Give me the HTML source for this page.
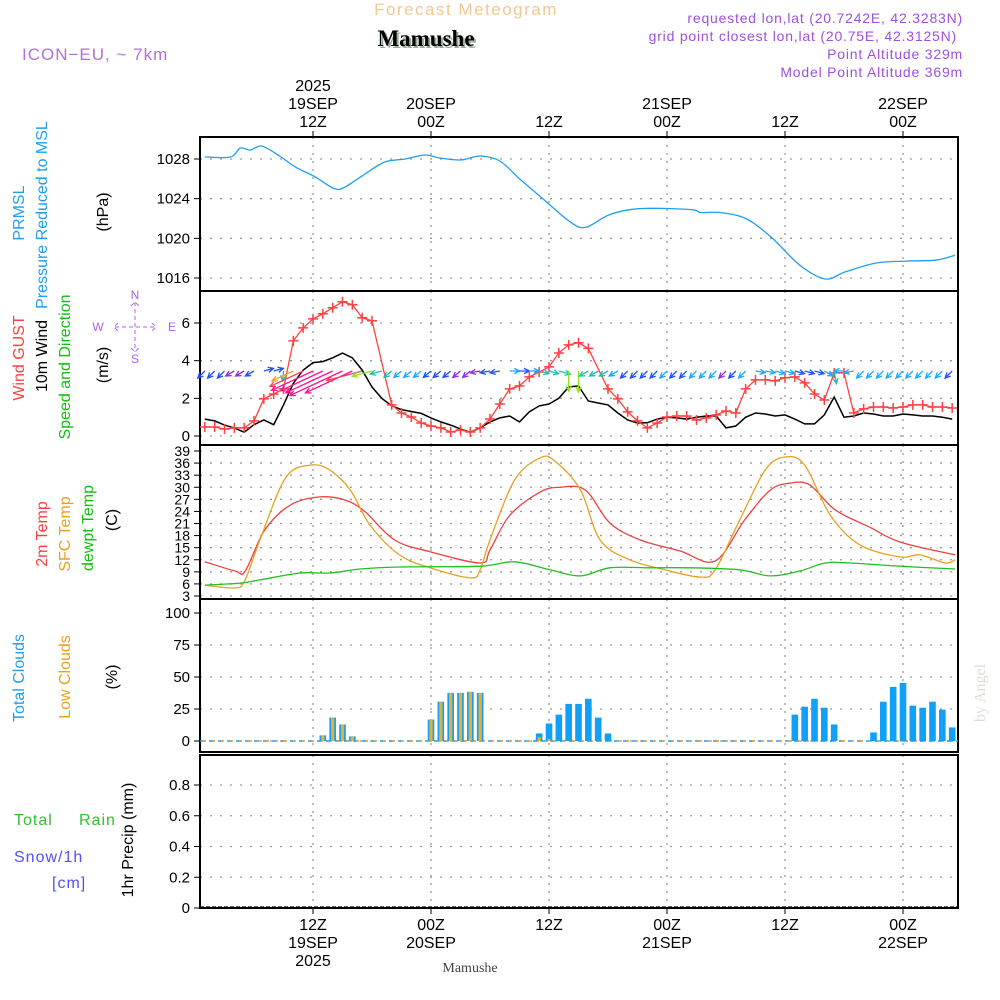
<!DOCTYPE html>
<html><head><meta charset="utf-8"><style>
body{margin:0;background:#fff}
svg{display:block;font-family:"Liberation Sans",sans-serif}
</style></head><body>
<svg id="c" width="1000" height="1000" viewBox="0 0 1000 1000">
<text x="466" y="15" font-size="17" fill="#f0c890" text-anchor="middle" letter-spacing="1.5">Forecast Meteogram</text>
<text x="428" y="48" font-size="23" font-weight="bold" font-family="Liberation Serif,serif" fill="#9a9" text-anchor="middle">Mamushe</text>
<text x="426" y="46" font-size="23" font-weight="bold" font-family="Liberation Serif,serif" fill="#000" text-anchor="middle">Mamushe</text>
<text x="22" y="60" font-size="17" fill="#b070e0" letter-spacing="1">ICON−EU, ~ 7km</text>
<g font-size="14" fill="#a050e0" text-anchor="end" letter-spacing="0.8">
<text x="963" y="23">requested lon,lat (20.7242E, 42.3283N)</text>
<text x="957" y="41">grid point closest lon,lat (20.75E, 42.3125N)</text>
<text x="963" y="59">Point Altitude 329m</text>
<text x="963" y="77">Model Point Altitude 369m</text>
</g>
<g id="g"></g>
<text transform="translate(985,693) rotate(-90)" font-size="16" font-family="Liberation Serif,serif" fill="#d8e0d8" text-anchor="middle">by Angel</text>
</svg>
<script>
const presHours=[1,3.6,4.6,5.6,6.8,8.6,10.2,12.2,14.2,15.3,17.3,19.3,21.4,23.4,24.9,27,29,31,33,35.6,38.1,39.7,42.2,45.3,50.4,51.4,53.4,56,58.5,61.5,64.1,66.1,69.2,72.2,75.3,77.3];
const presVals=[1028.2,1028.2,1029.1,1028.9,1029.3,1028.3,1027.2,1026.2,1025.0,1025.2,1026.5,1027.7,1028.0,1028.4,1028.1,1027.9,1028.3,1027.8,1026.0,1023.8,1021.7,1021.1,1022.4,1023.0,1022.9,1022.6,1022.6,1022.0,1020.2,1017.3,1015.9,1016.6,1017.5,1017.7,1017.8,1018.3];
const windVals=[0.9,0.8,0.58,0.43,0.2,0.6,0.85,0.6,1.65,2.8,3.5,3.9,3.95,4.15,4.4,4.15,3.5,2.6,2.0,1.6,1.4,1.3,1.2,0.96,0.75,0.58,0.37,0.2,0.43,0.75,0.96,1.06,0.75,1.28,1.6,1.7,2.0,2.6,2.66,1.86,1.75,1.65,1.22,0.85,0.69,0.7,0.9,1.0,0.96,0.9,1.0,1.06,1.06,0.43,0.53,1.0,1.22,1.17,1.06,1.12,0.9,0.64,0.64,1.12,2.07,1.0,1.06,1.22,1.17,1.06,1.06,1.17,1.12,1.06,1.06,1.0,0.9];
const windDirs=[135,135,135,150,150,150,-15,-15,95,155,155,155,155,155,155,155,165,165,165,140,140,140,140,140,140,140,140,140,170,170,170,0,0,0,15,15,15,90,90,150,150,150,150,135,135,135,135,135,135,135,135,135,135,135,135,135,10,10,15,15,15,15,15,30,80,180,170,135,135,135,135,135,135,135,135,135,135];
const gustHours=[1,2,3,4,5,6,7,8,9,10,11,12,13,14,15,16,17,18,20,21,22,23,24,25,26,27,28,29,30,31,32,33,34,35,36,37,38,39,40,42,43,44,45,46,47,48,49,50,51,52,53,54,55,56,57,58,59,60,61,62,63,64,65,66,67,68,69,70,71,72,73,74,75,76,77];
const gustVals=[0.48,0.48,0.37,0.43,0.43,0.8,1.97,2.23,2.5,5.05,5.74,6.22,6.49,6.81,7.13,6.97,6.28,6.12,1.65,1.22,1.01,0.69,0.53,0.43,0.21,0.32,0.21,0.43,0.9,1.7,2.5,2.66,3.14,3.4,3.67,4.41,4.84,4.95,4.65,2.5,1.97,1.28,0.8,0.43,0.69,1.01,1.06,1.06,0.85,0.96,1.12,1.33,1.22,2.5,2.98,2.98,2.93,3.09,3.14,2.82,2.23,1.91,3.35,3.35,1.22,1.44,1.54,1.54,1.49,1.54,1.65,1.65,1.54,1.54,1.49];
const t2Hours=[1,4.1,5.1,7.1,9.7,12.7,15.3,17.3,20.3,23.9,29,30,32,35.1,37.1,39.7,42.2,45.3,49.3,52.9,55.9,58.5,60.5,62.5,65.1,68.6,71.7,77.3];
const t2Vals=[11.5,9.2,9.2,19.4,25.6,27.6,26.8,23.9,16.9,14,11.2,14.4,23,28.8,30,29.3,21.1,16.9,14.2,11.7,21.9,29.3,31,30.6,24.4,20.1,16.4,13.2];
const sfcHours=[1,4.1,5.1,6.6,9.2,11.7,13.7,15.8,17.8,20.8,23.9,28,29,30,32.5,35.1,36.6,39.2,41.2,44.2,47.8,51.4,52.9,55.4,58,60,62,64.6,67.6,71.7,73.7,76.3,77.3];
const sfcVals=[5.7,5,7,16.9,32.3,35.5,34.3,29.3,20.6,13.2,10,7.5,9.5,16.9,31.8,37.3,36.5,29.3,16.9,12,9.5,7.7,9.5,21.9,34.3,37.5,35.5,23.1,15.7,12.7,13.2,11.2,12];
const dewHours=[1,4.6,6.6,10.7,13.7,16.8,20.8,29,32.5,36.1,39.2,42.2,46.3,50.4,55.4,58.5,61.5,64.1,66.6,71.7,77.3];
const dewVals=[5.7,6.2,7,8.7,8.7,9.7,10.2,10.4,11.5,9.5,8,10,10,10,9.5,8,9.2,11.2,11.2,10.4,9.7];
const cloudHours=[13,14,15,16,24,25,26,27,28,29,35,36,37,38,39,40,41,42,61,62,63,64,65,69,70,71,72,73,74,75,76,77];
const totalCloud=[4.4,18.3,12.9,3.6,16.8,30.7,37.6,37.6,38.4,37.6,5.9,13.7,20.6,29,29,33,18.3,5.9,20.6,26.8,33,26,12.9,6.7,30.7,42.3,45.4,27.6,26,30.7,24.5,10.6];
const lowCloud=[4.4,18.3,12.9,3.6,16.8,30.7,37.6,37.6,38.4,37.6,3,1.5,0,0,0,0,0,0,0,0,0,0,0,0,0,0,0,0,0,0,0,0];
const presTicks=[1016,1020,1024,1028];
const windTicks=[0,2,4,6];
const tempTicks=[3,6,9,12,15,18,21,24,27,30,33,36,39];
const cloudTicks=[0,25,50,75,100];
const precipTicks=[0,0.2,0.4,0.6,0.8];
const timeHours=[12,24,36,48,60,72];

const NS='http://www.w3.org/2000/svg';
const G=document.getElementById('g');
function mk(tag,attrs,parent){const e=document.createElementNS(NS,tag);for(const k in attrs)e.setAttribute(k,attrs[k]);(parent||G).appendChild(e);return e;}
const X0=200,X1=958;
function hx(t){return 313+(t-12)*9.8333;}
function lin(v0,y0,v1,y1){return v=>y0+(v-v0)*(y1-y0)/(v1-v0);}
const yP=lin(1028,159,1016,278), yW=lin(0,436,6,323), yT=lin(3,596,39,451), yC=lin(0,741,100,613), yR=lin(0,908,0.8,785);
const panels=[[137,291,yP,presTicks,'pressure'],[291,445,yW,windTicks,'wind'],[445,599,yT,tempTicks,'temperature'],[599,752,yC,cloudTicks,'clouds'],[755,908,yR,precipTicks,'precip']];

panels.forEach(p=>{
  const [top,bot,ys,ticks,nm]=p;
  const gr=mk('g',{});
  
  
  timeHours.forEach(t=>{const l=mk('line',{x1:hx(t),x2:hx(t),y1:top,y2:bot,stroke:'#999','stroke-dasharray':'2,6','stroke-width':1.3},gr);
    });
  ticks.forEach(v=>{const y=ys(v);
    const l=mk('line',{x1:X0,x2:X1,y1:y,y2:y,stroke:'#999','stroke-dasharray':'2,8','stroke-width':1.3},gr);
    
    mk('line',{x1:X0-6,x2:X0,y1:y,y2:y,stroke:'#000'},gr);
    const tx=mk('text',{x:X0-10,y:y+5,'font-size':nm==='temperature'?14:15,'text-anchor':'end',fill:'#000'},gr);
    tx.textContent=(nm==='precip'&&v!==0)?v.toFixed(1):String(v);
    
  });
  const r=mk('rect',{x:X0,y:top,width:X1-X0,height:bot-top,fill:'none',stroke:'#000','stroke-width':2},gr);
  
});
timeHours.forEach(t=>{mk('line',{x1:hx(t),x2:hx(t),y1:131,y2:137,stroke:'#000'});mk('line',{x1:hx(t),x2:hx(t),y1:908,y2:914,stroke:'#000'});});
const topLab=[['12Z','19SEP','2025'],['00Z','20SEP'],['12Z'],['00Z','21SEP'],['12Z'],['00Z','22SEP']];
topLab.forEach((a,i)=>{const x=hx(timeHours[i]);
  a.forEach((s,j)=>{const e=mk('text',{x:x,y:127-j*18,'font-size':16,'text-anchor':'middle'});e.textContent=s;
    });
  a.forEach((s,j)=>{const e=mk('text',{x:x,y:930+j*18,'font-size':16,'text-anchor':'middle'});e.textContent=s;
    });
});
const lb=mk('text',{x:470,y:972,'font-size':14,'font-family':'Liberation Serif,serif','text-anchor':'middle',fill:'#444'});lb.textContent='Mamushe';


function smoothPath(pts){let d='M'+pts[0][0].toFixed(1)+','+pts[0][1].toFixed(1);
  for(let i=0;i<pts.length-1;i++){const p0=pts[Math.max(0,i-1)],p1=pts[i],p2=pts[i+1],p3=pts[Math.min(pts.length-1,i+2)];
    const c1x=p1[0]+(p2[0]-p0[0])/6,c1y=p1[1]+(p2[1]-p0[1])/6,c2x=p2[0]-(p3[0]-p1[0])/6,c2y=p2[1]-(p3[1]-p1[1])/6;
    d+=`C${c1x.toFixed(1)},${c1y.toFixed(1)} ${c2x.toFixed(1)},${c2y.toFixed(1)} ${p2[0].toFixed(1)},${p2[1].toFixed(1)}`;}
  return d;}
function poly(hours,vals,ys,col,name,w,smooth){const pts=hours.map((h,i)=>[hx(h),ys(vals[i])]);
  const d=smooth?smoothPath(pts):'M'+pts.map(p=>p[0].toFixed(1)+','+p[1].toFixed(1)).join('L');
  const e=mk('path',{d:d,fill:'none',stroke:col,'stroke-width':w||1.3});return e;}
poly(presHours,presVals,yP,'#1e9ff0','pressure-line',1.3,true);
poly(windVals.map((v,i)=>i+1),windVals,yW,'#000','wind-speed-line',1.5);
poly(gustHours,gustVals,yW,'#ff4040','wind-gust-line');
gustHours.forEach((h,i)=>{const x=hx(h),y=yW(gustVals[i]);
  const e=mk('path',{d:`M${x-5},${y}H${x+5}M${x},${y-5}V${y+5}`,stroke:'#ff4040','stroke-width':1.5});
  });
function wcol(s){return s<0.5?'#9030e0':s<1.0?'#2050ff':s<1.5?'#20a8ff':s<2.2?'#20c0b0':s<2.7?'#90e020':s<3.2?'#f0a020':s<3.7?'#ff4060':'#ff1090';}
windDirs.forEach((d,i)=>{const s=windVals[i];const x=hx(i+1),y=371;
  const L=Math.max(10,3*s*s);const a=d*Math.PI/180;const x2=x+L*Math.cos(a),y2=y+L*Math.sin(a);
  const h1=a+Math.PI-0.45,h2=a+Math.PI+0.45;const c=wcol(s);
  const e=mk('path',{d:`M${x},${y}L${x2},${y2}M${x2+6*Math.cos(h1)},${y2+6*Math.sin(h1)}L${x2},${y2}L${x2+6*Math.cos(h2)},${y2+6*Math.sin(h2)}`,stroke:c,'stroke-width':1.3,fill:'none'});
  });
poly(t2Hours,t2Vals,yT,'#f04040','temp-2m-line',1.3,true);
poly(sfcHours,sfcVals,yT,'#e8a020','temp-sfc-line',1.3,true);
poly(dewHours,dewVals,yT,'#20c020','dewpoint-line',1.3,true);
mk('line',{x1:X0,x2:X1,y1:741,y2:741,stroke:'#1e9ff0','stroke-dasharray':'5,4','stroke-width':1.5});
mk('line',{x1:X0+3,x2:X1,y1:741,y2:741,stroke:'#e8a020','stroke-dasharray':'3,6','stroke-width':1.5});
mk('line',{x1:X0,x2:X1,y1:907,y2:907,stroke:'#000','stroke-dasharray':'4,2','stroke-width':1.2});
cloudHours.forEach((h,i)=>{const x=hx(h);
  const b=mk('rect',{x:x-3.3,y:yC(totalCloud[i]),width:6.6,height:741-yC(totalCloud[i]),fill:'#10a0f8'});
  
  if(lowCloud[i]>0){const o=mk('rect',{x:x-1.6,y:yC(lowCloud[i]),width:3.2,height:741-yC(lowCloud[i]),fill:'#e8b030'});
  }
});
function vlab(x,y,s,col,name,fs){const e=mk('text',{transform:`translate(${x},${y}) rotate(-90)`,'font-size':fs||16,fill:col,'text-anchor':'middle'});e.textContent=s;
  }
vlab(24,213,'PRMSL','#1e9ff0','pressure-label-1');
vlab(47,215,'Pressure Reduced to MSL','#1e9ff0','pressure-label-2');
vlab(108,212,'(hPa)','#000','pressure-unit');
vlab(24,358,'Wind GUST','#ff4040','gust-label');
vlab(47,356,'10m Wind','#000','wind-label');
vlab(70,367,'Speed and Direction','#10c010','wind-dir-label');
vlab(108,365,'(m/s)','#000','wind-unit');
vlab(47,534,'2m Temp','#ff4040','temp2m-label');
vlab(70,534,'SFC Temp','#e8a020','sfc-temp-label');
vlab(93,528,'dewpt Temp','#10c010','dewpt-label');
vlab(117,520,'(C)','#000','temp-unit');
vlab(24,678,'Total Clouds','#1e9ff0','total-clouds-label');
vlab(70,677,'Low Clouds','#e8a020','low-clouds-label');
vlab(117,677,'(%)','#000','cloud-unit');
vlab(133,840,'1hr Precip (mm)','#000','precip-unit');
[['Total',14,825,'#30c030','rain-legend-total'],['Rain',79,825,'#30c030','rain-legend'],['Snow/1h',14,862,'#5050ff','snow-legend'],['[cm]',52,888,'#5050ff','snow-unit']].forEach(a=>{
  const e=mk('text',{x:a[1],y:a[2],'font-size':16,fill:a[3],'letter-spacing':1});e.textContent=a[0];
  });
const cp=mk('g',{fill:'#b060f0','font-size':12,'text-anchor':'middle'});

mk('path',{d:'M115,327H155M135,302V352M118,323L114,327L118,331M152,323L156,327L152,331M131,306L135,302L139,306M131,348L135,352L139,348',stroke:'#b060f0','stroke-dasharray':'4,3',fill:'none'},cp);
[['N',135,299],['S',135,363],['W',98,331],['E',172,331]].forEach(a=>{const e=mk('text',{x:a[1],y:a[2]},cp);e.textContent=a[0];});
</script>
</body></html>
